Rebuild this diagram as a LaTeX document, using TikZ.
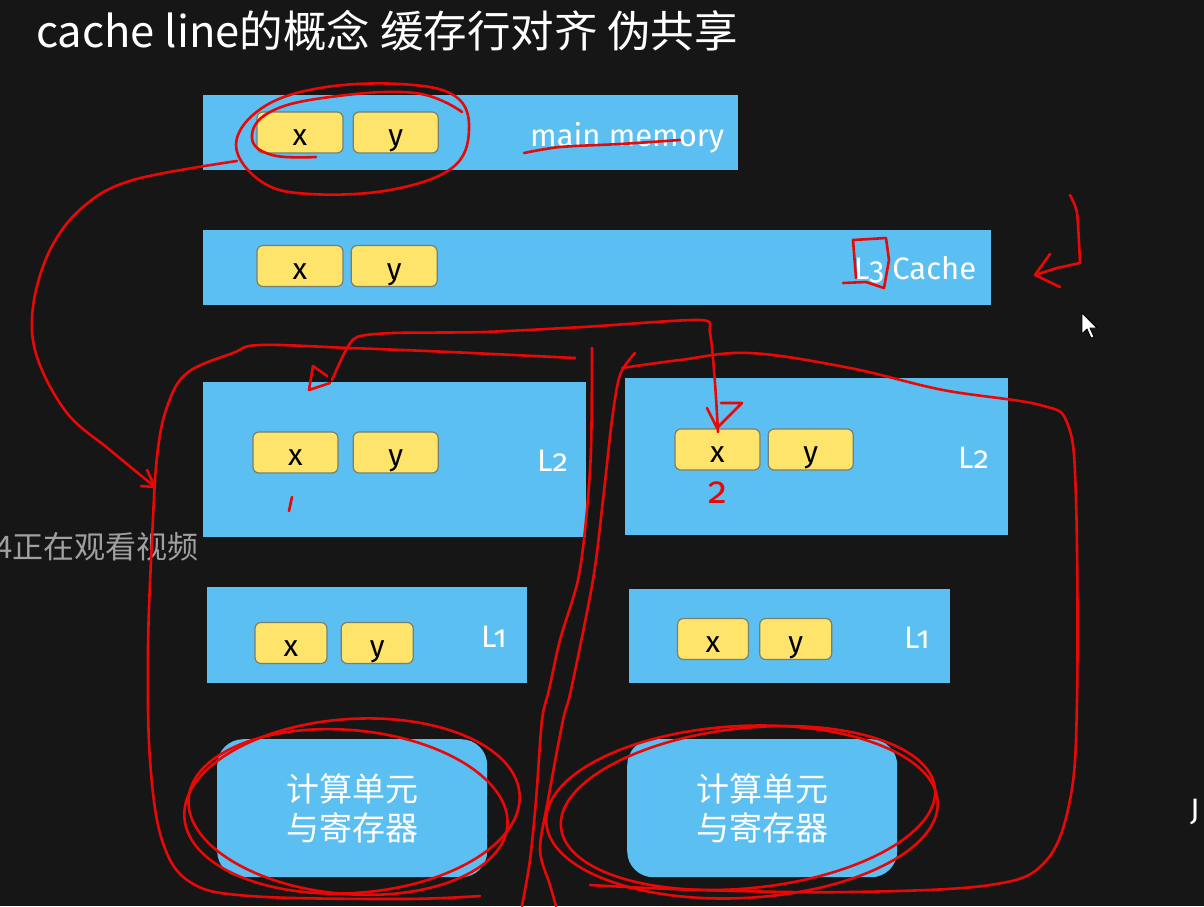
\documentclass[tikz,border=0pt]{standalone}
\usepackage{fontspec}
\setmainfont{Fira Sans}[Numbers=OldStyle]
\newfontfamily\cjk{Noto Sans CJK SC}
\usetikzlibrary{positioning}
\definecolor{board}{RGB}{22,22,22}
\definecolor{sky}{RGB}{92,191,242}
\definecolor{butter}{RGB}{254,228,106}
\definecolor{cellrim}{RGB}{120,128,112}
\definecolor{inkred}{RGB}{232,8,8}
\definecolor{overlay}{RGB}{160,160,160}
\tikzset{%
  level/.style={fill=sky, inner sep=0pt, outer sep=0pt, anchor=north west},
  cell/.style={fill=butter, draw=cellrim, line width=1.2pt, rounded corners=6pt,
    inner sep=0pt, minimum height=41pt, text height=26pt, text depth=0pt,
    font=\fontsize{30}{30}\selectfont},
  ink/.style={draw=inkred, line width=2.6pt, line cap=round, line join=round}%
}

\begin{document}
\begin{tikzpicture}[
    x=1pt, y=-1pt,
    core/.style={
        fill=sky,
        rounded corners=26pt,
        anchor=north west,
        inner sep=0pt,
        minimum width=270pt,
        minimum height=138pt,
        text=white,
        align=center,
        font=\cjk\fontsize{33}{39}\selectfont
    },
    tag/.style={
        text=white,
        anchor=base west,
        inner sep=0pt,
        font=\fontsize{31}{31}\selectfont
    }
]
\useasboundingbox (0,0) rectangle (1204,906);
\fill[board] (0,0) rectangle (1204,906);
\clip (0,0) rectangle (1204,906);

% Title
\node[text=white, anchor=base west, inner sep=0pt, font=\cjk\fontsize{43.5}{44}\selectfont]
  (title) at (36,47) {cache line的概念 缓存行对齐 伪共享};

% Main memory and L3
\node[level, minimum width=535pt, minimum height=75pt] (mem) at (203,95) {};
\node[cell, minimum width=86pt] (memx) at (300,132.5) {x};
\node[cell, minimum width=85pt, right=9pt of memx] (memy) {y};
\node[tag] (memtag) at (530,146) {main memory};

\node[level, minimum width=788pt, minimum height=75pt] (lthree) at (203,230) {};
\node[cell, minimum width=86pt] (lthreex) at (300,266) {x};
\node[cell, minimum width=86pt, right=7pt of lthreex] (lthreey) {y};
\node[tag] (lthreetag) at (854,279) {L3 Cache};

% Core A (left)
\node[level, minimum width=383pt, minimum height=155pt] (ltwoa) at (203,382) {};
\node[cell, minimum width=85pt] (ltwoax) at (295.5,452.5) {x};
\node[cell, minimum width=85pt, right=14pt of ltwoax] (ltwoay) {y};
\node[tag] (ltwoatag) at (537,471) {L2};

\node[level, minimum width=320pt, minimum height=96pt] (lonea) at (207,587) {};
\node[cell, minimum width=72pt] (loneax) at (291,643) {x};
\node[cell, minimum width=72pt, right=13pt of loneax] (loneay) {y};
\node[tag] (loneatag) at (481,647) {L1};

\node[core] (corea) at (217,739) {计算单元\\与寄存器};

% Core B (right)
\node[level, minimum width=383pt, minimum height=157pt] (ltwob) at (625,378) {};
\node[cell, minimum width=85pt] (ltwobx) at (717.5,449.5) {x};
\node[cell, minimum width=85pt, right=7pt of ltwobx] (ltwoby) {y};
\node[tag] (ltwobtag) at (958,468) {L2};

\node[level, minimum width=321pt, minimum height=94pt] (loneb) at (629,589) {};
\node[cell, minimum width=71pt] (lonebx) at (713,639) {x};
\node[cell, minimum width=72pt, right=10pt of lonebx] (loneby) {y};
\node[tag] (lonebtag) at (904,648) {L1};

\node[core] (coreb) at (627,739) {计算单元\\与寄存器};

% Screen overlay texts and pointer
\node[text=overlay, anchor=base east, inner sep=0pt, font=\cjk\fontsize{31}{31}\selectfont]
  (watch) at (199,558) {4正在观看视频};
\node[tag] (edge) at (1190,820) {J};
\filldraw[fill=white, draw=black, line width=.8pt]
  (1082,313) -- (1082,334) -- (1087,329) -- (1091,338) -- (1094,337) -- (1090,328) -- (1097,328) -- cycle;

% Red pen marks
\draw[ink] plot[smooth cycle, tension=.65] coordinates {(236,145) (262,108) (320,88) (400,84) (455,96) (469,130) (452,168) (390,190) (310,194) (262,182)};
\draw[ink] plot[smooth, tension=.7] coordinates {(316,157) (272,155) (252,138) (270,112) (330,97) (415,93) (462,112)};
\draw[ink] plot[smooth] coordinates {(524,153) (560,147) (620,144) (680,140)};

\draw[ink] plot[smooth, tension=.6] coordinates {(237,161) (133,180) (83,207) (50,250) (33,307) (37,357) (67,413) (110,450) (155,487)};
\draw[ink] (147,470) -- (155,487) -- (141,486);

\draw[ink] (856,278) -- (853,240) -- (886,238) -- (889,260) -- (884,288) -- (866,282) -- (843,283);
\draw[ink] plot[smooth, tension=.4] coordinates {(1070,195) (1077,213) (1080,263)};
\draw[ink] (1080,263) -- (1057,268) -- (1035,275);
\draw[ink] (1050,254) -- (1035,275) -- (1060,287);

\draw[ink] plot[smooth, tension=.45] coordinates {(332,380) (345,352) (357,337) (393,333) (483,332) (583,327) (700,320) (710,333) (715,383) (718,432)};
\draw[ink] (330,383) -- (309,390) -- (313,366) -- (327,376);
\draw[ink] (707,408) -- (717,428) -- (742,403) -- (721,403);
\draw[ink] (292,497) -- (289,511);
\node[text=inkred, inner sep=0pt, font=\fontsize{38}{38}\selectfont] (two) at (718,493) {2};

\draw[ink] plot[smooth, tension=.6] coordinates {(575,358) (450,352) (350,348) (260,345) (233,353) (187,373) (167,407) (157,457) (152,540) (148,650) (150,760) (162,840) (190,882) (250,896) (400,899) (480,896)};
\draw[ink] plot[smooth, tension=.5] coordinates {(592,348) (591,450) (586,520) (578,580) (560,640) (549,690) (542,720) (536,800) (530,860) (522,906)};
\draw[ink] plot[smooth, tension=.5] coordinates {(635,353) (620,375) (612,420) (603,500) (593,580) (571,690) (563,720) (548,800) (540,850) (550,885) (556,906)};
\draw[ink] plot[smooth, tension=.6] coordinates {(622,368) (680,360) (750,353) (850,368) (943,390) (1040,405) (1068,425) (1076,500) (1077,700) (1070,800) (1045,862) (990,885) (850,892) (700,890) (590,885)};

\draw[ink, rotate around={4:(352,806)}] (352,806) ellipse [x radius=168, y radius=87];
\draw[ink, rotate around={-5:(348,812)}] (348,812) ellipse [x radius=160, y radius=82];
\draw[ink, rotate around={3:(742,812)}] (742,812) ellipse [x radius=196, y radius=86];
\draw[ink, rotate around={6:(748,808)}] (748,808) ellipse [x radius=188, y radius=80];

\end{tikzpicture}
\end{document}
